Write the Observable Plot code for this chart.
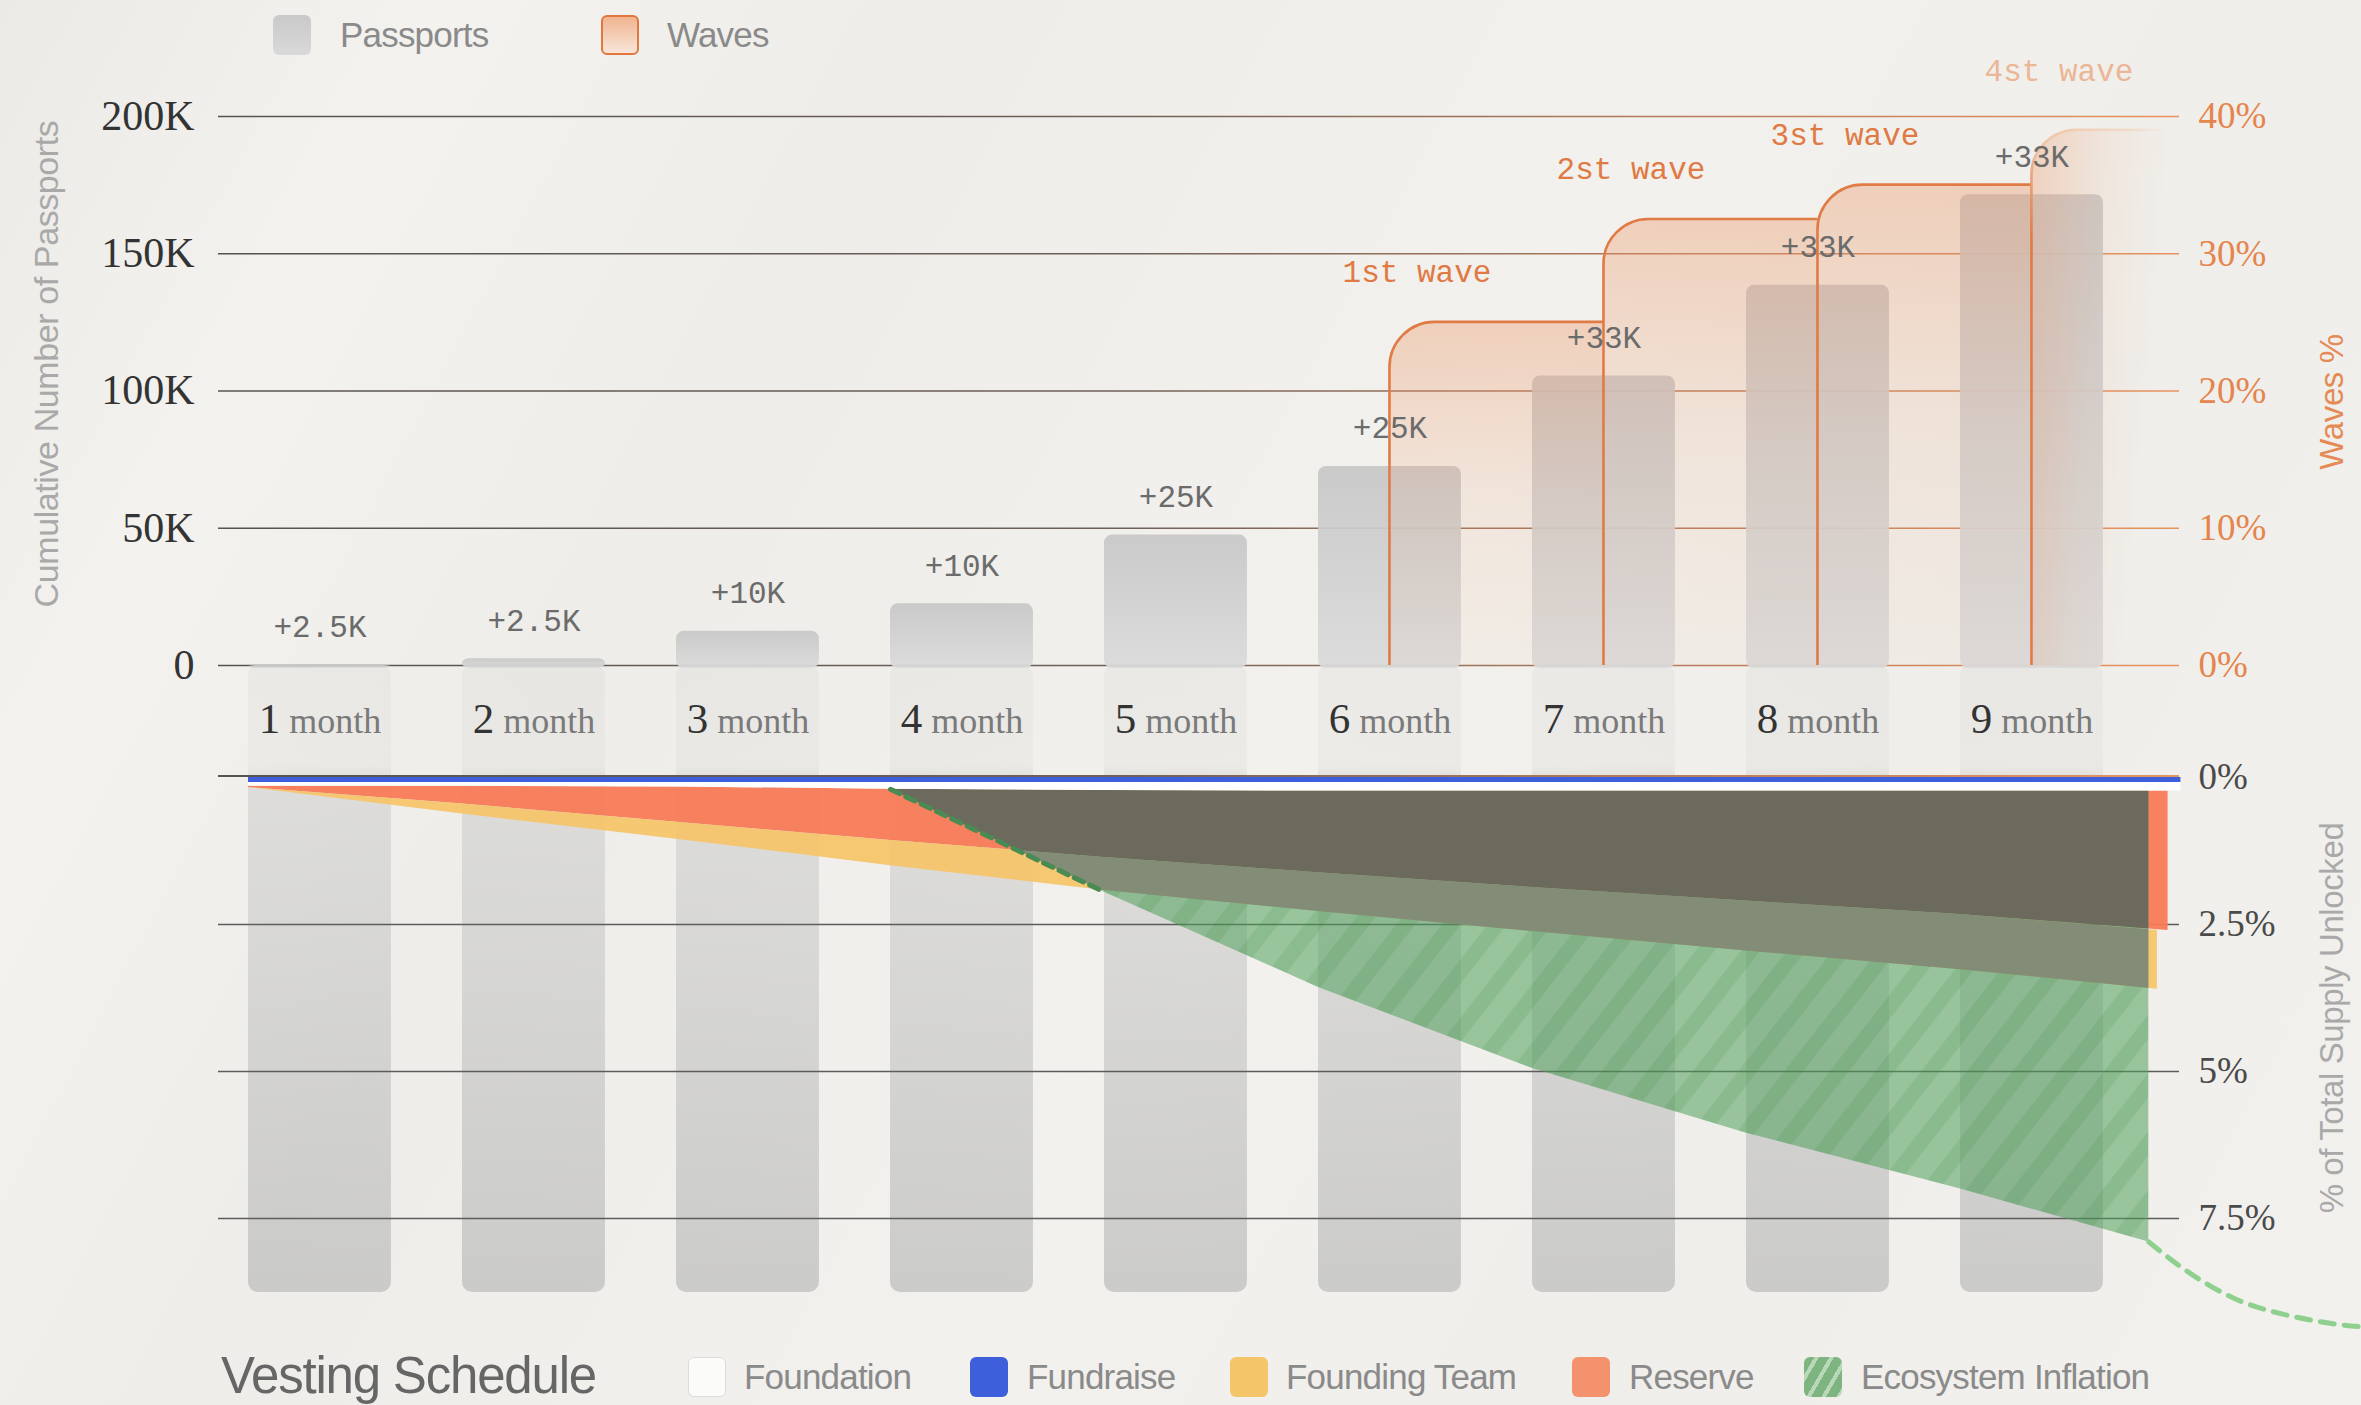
<!DOCTYPE html>
<html><head><meta charset="utf-8">
<script src="https://cdn.jsdelivr.net/npm/d3@7"></script>
<script src="https://cdn.jsdelivr.net/npm/@observablehq/plot@0.6"></script>
<style>
html,body{margin:0;padding:0;}
body{width:2361px;height:1405px;overflow:hidden;background:#efede9;}
#root{position:relative;width:2361px;height:1405px;overflow:hidden;
  background:linear-gradient(118deg,#ebeae6 0%,#f3f2ee 14%,#eeede9 30%,#f2f1ed 55%,#efeeea 75%,#f2f1ed 100%);
  font-family:"Liberation Sans",Arial,sans-serif;}
.sw{position:absolute;width:38px;height:40px;border-radius:6px;box-sizing:border-box;}
.lt{position:absolute;font-size:35px;line-height:40px;color:#8a8a8a;letter-spacing:-0.8px;white-space:nowrap;}
.vt{position:absolute;font-size:33px;line-height:1;white-space:nowrap;transform:translate(-50%,-50%) rotate(-90deg);letter-spacing:-0.4px;}
#topPlot,#botPlot{position:absolute;left:0;}
#topPlot{top:0;z-index:2;}
#botPlot{top:665px;z-index:1;}
</style></head>
<body>
<svg width="0" height="0" style="position:absolute">
<defs>
  <linearGradient id="gridGrad" gradientUnits="userSpaceOnUse" x1="218" y1="0" x2="2179" y2="0">
    <stop offset="0" stop-color="#58534e"/>
    <stop offset="0.45" stop-color="#6c6058"/>
    <stop offset="0.75" stop-color="#b97d5c"/>
    <stop offset="1" stop-color="#e8935e"/>
  </linearGradient>
  <linearGradient id="barGrad" x1="0" y1="0" x2="0" y2="1">
    <stop offset="0" stop-color="#c7c7c7"/>
    <stop offset="1" stop-color="#dadada"/>
  </linearGradient>
  <linearGradient id="barGradLow" x1="0" y1="0" x2="0" y2="1">
    <stop offset="0" stop-color="#bdbdbd" stop-opacity="0.14"/>
    <stop offset="0.16" stop-color="#bdbdbd" stop-opacity="0.12"/>
    <stop offset="0.185" stop-color="#bdbdbd" stop-opacity="0.36"/>
    <stop offset="1" stop-color="#b8b8b8" stop-opacity="0.66"/>
  </linearGradient>
  <linearGradient id="waveFill" x1="0" y1="0" x2="0" y2="1">
    <stop offset="0" stop-color="#ec9464" stop-opacity="0.36"/>
    <stop offset="0.5" stop-color="#ec9464" stop-opacity="0.13"/>
    <stop offset="1" stop-color="#ec9464" stop-opacity="0.04"/>
  </linearGradient>
  <linearGradient id="waveFillFade" x1="0" y1="0" x2="1" y2="0.35">
    <stop offset="0" stop-color="#ec9464" stop-opacity="0.34"/>
    <stop offset="0.5" stop-color="#ec9464" stop-opacity="0.1"/>
    <stop offset="0.92" stop-color="#ec9464" stop-opacity="0"/>
  </linearGradient>
  <linearGradient id="waveStrokeFade" x1="0" y1="1" x2="1" y2="0">
    <stop offset="0" stop-color="#e07b45"/>
    <stop offset="0.4" stop-color="#e07b45"/>
    <stop offset="0.5" stop-color="#efc3a4"/>
    <stop offset="0.85" stop-color="#f3d2bb" stop-opacity="0.7"/>
    <stop offset="1" stop-color="#f3d2bb" stop-opacity="0"/>
  </linearGradient>
  <pattern id="ecoHatch" patternUnits="userSpaceOnUse" width="36" height="36" patternTransform="rotate(38)">
    <rect width="36" height="36" fill="#50a05a" fill-opacity="0.55"/>
    <rect width="15" height="36" fill="#2f7f3c" fill-opacity="0.14"/>
  </pattern>
</defs>
</svg>
<div id="root">
  <div class="sw" style="left:273px;top:15px;background:linear-gradient(#c9c9c9,#d9d9d9);"></div>
  <div class="lt" style="left:340px;top:15px;">Passports</div>
  <div class="sw" style="left:601px;top:15px;border:2.5px solid #e2773f;background:linear-gradient(#efb48f,#f8e6da);"></div>
  <div class="lt" style="left:667px;top:15px;">Waves</div>

  <div class="vt" style="left:46px;top:364px;color:#a9a9a9;font-size:34px;">Cumulative Number of Passports</div>
  <div class="vt" style="left:2331px;top:402px;color:#e58a55;">Waves %</div>
  <div class="vt" style="left:2331px;top:1018px;color:#a9a9a9;">% of Total Supply Unlocked</div>

  <div class="lt" style="left:221px;top:1349px;font-size:51px;line-height:54px;color:#666;letter-spacing:-1.2px;">Vesting Schedule</div>
  <div class="sw" style="left:688px;top:1357px;background:#fbfbfa;border:1.5px solid #dcdcdc;"></div>
  <div class="lt" style="left:744px;top:1357px;">Foundation</div>
  <div class="sw" style="left:970px;top:1357px;background:#3d5fdc;"></div>
  <div class="lt" style="left:1027px;top:1357px;">Fundraise</div>
  <div class="sw" style="left:1230px;top:1357px;background:#f5c56a;"></div>
  <div class="lt" style="left:1286px;top:1357px;">Founding Team</div>
  <div class="sw" style="left:1572px;top:1357px;background:#f4926e;"></div>
  <div class="lt" style="left:1629px;top:1357px;">Reserve</div>
  <div class="sw" style="left:1804px;top:1357px;background:repeating-linear-gradient(120deg,#7db47f 0 9px,#b9d8b8 9px 13px);"></div>
  <div class="lt" style="left:1861px;top:1357px;">Ecosystem Inflation</div>
</div>
<script>
// ---------- DATA ----------
const months = ["1 month","2 month","3 month","4 month","5 month","6 month","7 month","8 month","9 month"];
const passports = [0, 2500, 12500, 22500, 47500, 72500, 105500, 138500, 171500];
const increments = ["+2.5K","+2.5K","+10K","+10K","+25K","+25K","+33K","+33K","+33K"];
const passportTicks = [0, 50000, 100000, 150000, 200000];
const waveTickLabels = ["0%","10%","20%","30%","40%"];

const waveNames = ["1st wave","2st wave","3st wave","4st wave"];
const waveMonths = ["6 month","7 month","8 month","9 month"];
const wavePct = [25, 32.5, 35, 39];
const waveFadeEnd = 8.97;          // month position where the last wave fades out

// vesting (% of total supply), month positions 0..9
const vestT = [0,1,2,3,4,5,6,7,8,9];
const fundraise    = [0.085,0.085,0.085,0.085,0.085,0.085,0.085,0.085,0.085,0.085];
const foundation   = [0.065,0.065,0.075,0.115,0.135,0.145,0.145,0.145,0.145,0.145];
const reserve      = [0.02,0.30,0.60,0.87,1.14,1.39,1.64,1.87,2.10,2.37];
const foundingTeam = [0,0.17,0.29,0.43,0.56,0.66,0.75,0.85,0.94,1.00];
const seriesEnd    = {fundraise: 9.03, foundation: 9.03, reserve: 8.97, team: 8.92};
const ecoT         = [3,4,5,6,7,8,8.88];
const ecosystem    = [0,1.73,3.34,4.72,5.82,6.77,7.67];
const ecoProjT     = [8.88,9.06,9.28,9.51,9.74,9.87];
const ecoProjPct   = [7.90,8.40,8.86,9.13,9.29,9.34];
const vestTicks    = [0, 2.5, 5, 7.5];

// ---------- BUILD ----------
const ns = "http://www.w3.org/2000/svg";
const barFrac = 0.668;
const center = i => i + barFrac / 2;
const barRows = months.map((m, i) => ({m, i, v: passports[i], inc: increments[i]}));
const waveRows = waveNames.map((name, i) => ({name, i, t: center(months.indexOf(waveMonths[i])), pct: wavePct[i]}));
const pctToY = p => p * 5000; // 40% <-> 200K share one grid

function wavesMark(index, scales) {
  const {x, y} = scales;
  const g = document.createElementNS(ns, "g");
  g.setAttribute("aria-label", "waves");
  const r = 45, y0 = y(0);
  waveRows.forEach((w, i) => {
    const x0 = x(w.t);
    const x1 = i < waveRows.length - 1 ? x(waveRows[i + 1].t) : x(waveFadeEnd);
    const yt = y(pctToY(w.pct));
    const last = i === waveRows.length - 1;
    const f = document.createElementNS(ns, "path");
    f.setAttribute("d", `M${x0},${y0}V${yt + r}A${r},${r} 0 0 1 ${x0 + r},${yt}H${x1}V${y0}Z`);
    f.setAttribute("fill", last ? "url(#waveFillFade)" : "url(#waveFill)");
    g.appendChild(f);
    const s = document.createElementNS(ns, "path");
    s.setAttribute("d", `M${x0},${y0}V${yt + r}A${r},${r} 0 0 1 ${x0 + r},${yt}H${x1}`);
    s.setAttribute("fill", "none");
    s.setAttribute("stroke", last ? "url(#waveStrokeFade)" : "#e07b45");
    s.setAttribute("stroke-width", "2.6");
    g.appendChild(s);
  });
  return g;
}

const topPlot = Plot.plot({
  width: 2361, height: 760,
  marginTop: 116, marginBottom: 95, marginLeft: 218, marginRight: 182,
  x: {domain: [0, 9], range: [248, 2174], axis: null},
  y: {domain: [0, 200000]},
  style: {background: "transparent", overflow: "visible", fontFamily: "Liberation Serif"},
  marks: [
    Plot.ruleY(passportTicks, {stroke: "url(#gridGrad)", strokeWidth: 1.6}),
    Plot.rect(barRows, {x1: d => d.i, x2: d => d.i + barFrac, y1: 0, y2: "v", rx: 8, insetBottom: -3, fill: "url(#barGrad)", fillOpacity: 0.92}),
    wavesMark,
    Plot.text(barRows, {x: d => center(d.i), y: "v", text: "inc", dy: -38, fontFamily: "Liberation Mono", fontSize: 31, fill: "#6b6b6b"}),
    Plot.text(waveRows.filter(d => d.i < 3), {x: "t", y: d => pctToY(d.pct), text: "name", dx: 27, dy: -50, fontFamily: "Liberation Mono", fontSize: 31, fill: "#e07a44"}),
    Plot.text(waveRows.filter(d => d.i === 3), {x: "t", y: d => pctToY(d.pct), text: "name", dx: 27, dy: -59, fontFamily: "Liberation Mono", fontSize: 31, fill: "#ebb696"}),
    Plot.text(barRows, {x: d => center(d.i), y: d => 0, text: "m", dy: 56, fontSize: 36, fill: "#7a7a7a", ariaDescription: "month-labels"}),
    Plot.axisY({anchor: "left", ticks: passportTicks, tickFormat: d => d === 0 ? "0" : d / 1000 + "K", tickSize: 0, tickPadding: 24, fontSize: 42, fontFamily: "Liberation Serif", fill: "#333", label: null}),
    Plot.axisY({anchor: "right", ticks: passportTicks, tickFormat: d => waveTickLabels[passportTicks.indexOf(d)], tickSize: 0, tickPadding: 19, fontSize: 37, fontFamily: "Liberation Serif", fill: "#e5854d", label: null})
  ]
});
topPlot.id = "topPlot";

// split month labels into number + word
d3.select(topPlot).selectAll('g[aria-description="month-labels"] text').each(function() {
  const s = this.textContent;
  const k = s.indexOf(" ");
  this.textContent = "";
  const a = document.createElementNS(ns, "tspan");
  a.textContent = s.slice(0, k);
  a.setAttribute("font-size", "43");
  a.setAttribute("fill", "#333");
  const b = document.createElementNS(ns, "tspan");
  b.textContent = s.slice(k);
  this.appendChild(a); this.appendChild(b);
});

// vesting rows
const last = vestT.length - 1;
const fundRows = vestT.map((t, i) => ({t: i === last ? seriesEnd.fundraise : t, lo: 0, hi: fundraise[i]}));
const foundRows = vestT.map((t, i) => ({t: i === last ? seriesEnd.foundation : t, lo: fundraise[i], hi: fundraise[i] + foundation[i]}));
const resRows = vestT.map((t, i) => {
  const lo = fundraise[i] + foundation[i];
  return {t: i === last ? seriesEnd.reserve : t, lo, hi: lo + reserve[i]};
});
const teamRows = vestT.map((t, i) => {
  const lo = fundraise[i] + foundation[i] + reserve[i];
  return {t: i === last ? seriesEnd.team : t, lo, hi: lo + foundingTeam[i]};
});
const ecoRows = ecoT.map((t, j) => {
  const i = Math.round(t);
  const lo = fundraise[i] + foundation[i];
  return {t, lo, hi: lo + ecosystem[j]};
});
const projRows = ecoProjT.map((t, j) => ({t, v: ecoProjPct[j]}));

const botPlot = Plot.plot({
  width: 2361, height: 740,
  marginTop: 0, marginBottom: 113, marginLeft: 218, marginRight: 182,
  x: {domain: [0, 9], range: [248, 2174], axis: null},
  y: {domain: [0, 7.5], range: [112, 553]},
  style: {background: "transparent", overflow: "visible", fontFamily: "Liberation Serif"},
  marks: [
    Plot.rect(barRows, {x1: d => d.i, x2: d => d.i + barFrac, rx: 10, fill: "url(#barGradLow)"}),
    Plot.ruleY(vestTicks.filter(d => d > 0), {stroke: "#5c5c5c", strokeWidth: 1.5}),
    Plot.areaY(resRows, {x: "t", y1: "lo", y2: "hi", fill: "#f87b57", fillOpacity: 0.95}),
    Plot.areaY(teamRows, {x: "t", y1: "lo", y2: "hi", fill: "#f5c56c", fillOpacity: 0.95}),
    Plot.areaY(ecoRows, {x: "t", y1: "lo", y2: "hi", fill: "url(#ecoHatch)", ariaDescription: "eco"}),
    Plot.areaY(resRows, {x: "t", y1: "lo", y2: "hi", fill: "#6b6a5d", ariaDescription: "reserve-dark"}),
    Plot.areaY(teamRows, {x: "t", y1: "lo", y2: "hi", fill: "#838c76", ariaDescription: "team-dark"}),
    Plot.areaY(foundRows, {x: "t", y1: "lo", y2: "hi", fill: "#ffffff"}),
    Plot.areaY(fundRows, {x: "t", y1: "lo", y2: "hi", fill: "#3d5fdc"}),
    Plot.ruleY([0], {stroke: "url(#gridGrad)", strokeWidth: 1.8, dy: -1.5}),
    Plot.line(ecoRows.filter(d => d.t <= 4), {x: "t", y: "hi", stroke: "#4a8a53", strokeWidth: 5, strokeDasharray: "10,7"}),
    Plot.line(projRows, {x: "t", y: "v", curve: "natural", stroke: "#8fd08f", strokeWidth: 5, strokeDasharray: "14,10"}),
    Plot.axisY({anchor: "right", ticks: vestTicks, tickFormat: d => d + "%", tickSize: 0, tickPadding: 19, fontSize: 37, fontFamily: "Liberation Serif", fill: "#4a4a4a", label: null})
  ]
});
botPlot.id = "botPlot";

// clip dark overlap bands to the ecosystem area
(function() {
  const ecoPath = botPlot.querySelector('g[aria-description="eco"] path');
  const darks = botPlot.querySelectorAll('g[aria-description="reserve-dark"], g[aria-description="team-dark"]');
  if (!ecoPath) { darks.forEach(el => el.remove()); return; }
  const defs = document.createElementNS(ns, "defs");
  const clip = document.createElementNS(ns, "clipPath");
  clip.setAttribute("id", "ecoClip");
  const p = document.createElementNS(ns, "path");
  p.setAttribute("d", ecoPath.getAttribute("d"));
  clip.appendChild(p);
  defs.appendChild(clip);
  botPlot.insertBefore(defs, botPlot.firstChild);
  darks.forEach(g => g.querySelectorAll("path").forEach(el => el.setAttribute("clip-path", "url(#ecoClip)")));
})();

const root = document.getElementById("root");
root.appendChild(botPlot);
root.appendChild(topPlot);
</script>
</body></html>
